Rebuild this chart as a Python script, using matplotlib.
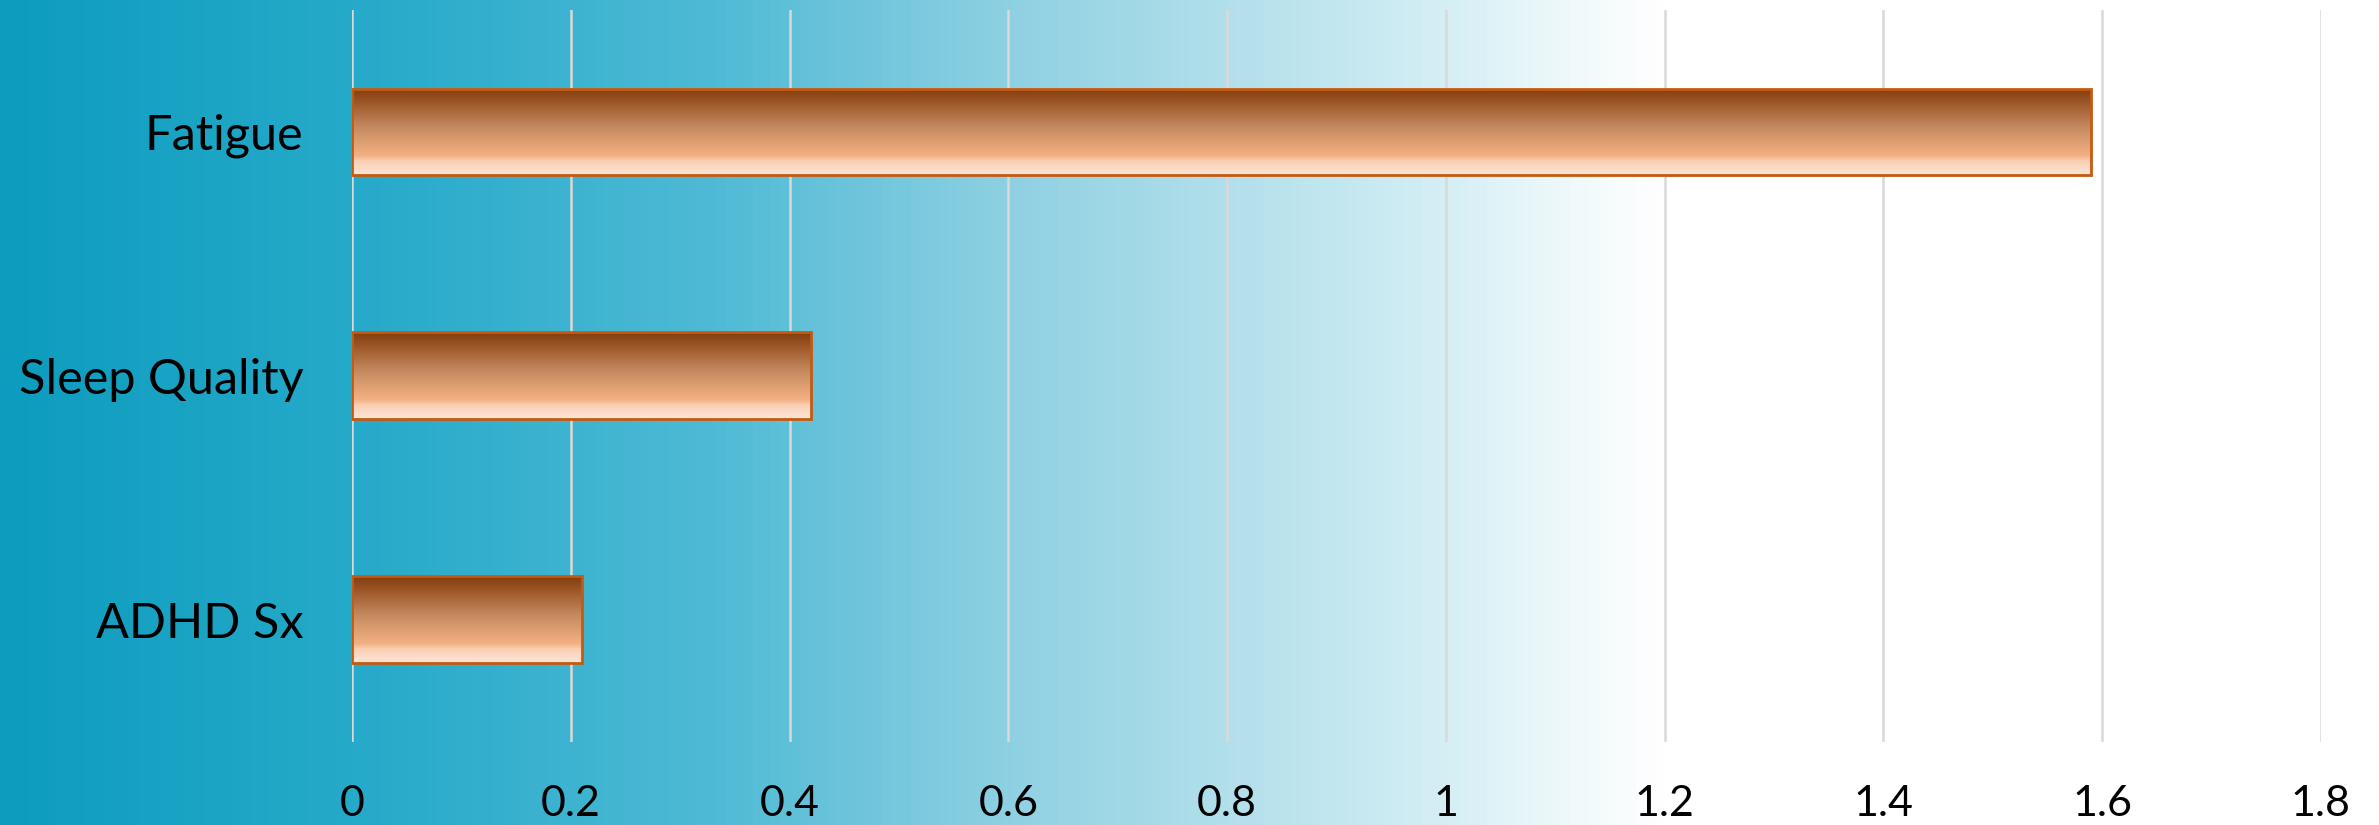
import numpy as np
import matplotlib.pyplot as plt
from matplotlib.colors import LinearSegmentedColormap

# Chart data
categories = ['Fatigue', 'Sleep Quality', 'ADHD Sx']
values     = [1.59, 0.42, 0.21]
x_ticks    = [0, 0.2, 0.4, 0.6, 0.8, 1, 1.2, 1.4, 1.6, 1.8]
x_labels   = ['0', '0.2', '0.4', '0.6', '0.8', '1', '1.2', '1.4', '1.6', '1.8']

plt.rcParams['font.family'] = ['Lato', 'DejaVu Sans']

# Colour maps: teal -> white backdrop, copper bar fill
back_cmap = LinearSegmentedColormap.from_list(
    'backdrop',
    [(0.00, '#0d9cbe'),
     (0.17, '#2aaccb'),
     (0.30, '#4fbad5'),
     (0.42, '#8dd0e2'),
     (0.52, '#b3e0eb'),
     (0.61, '#d6eff5'),
     (0.66, '#eff9fb'),
     (0.70, '#ffffff'),
     (1.00, '#ffffff')])
bar_cmap = LinearSegmentedColormap.from_list(
    'copper_fill',
    [(0.00, '#843c0c'),
     (0.15, '#9a5426'),
     (0.45, '#c68a60'),
     (0.78, '#f4b183'),
     (0.84, '#f9cfb3'),
     (1.00, '#fde6d8')])

fig = plt.figure(figsize=(23.79, 8.25), dpi=100)

#   Background gradient across the whole figure
bg = fig.add_axes([0, 0, 1, 1], zorder=-1)
bg.imshow(np.linspace(0, 1, 512).reshape(1, -1), cmap=back_cmap,
          aspect='auto', extent=[0, 1, 0, 1])
bg.set_axis_off()

ax = fig.add_axes([0.148, 0.101, 0.8276, 0.887])
ax.patch.set_alpha(0)

pos    = np.arange(len(categories))
height = 0.355
bars   = ax.barh(pos, values, height=height, facecolor='none',
                 edgecolor='#c55a11', linewidth=2, zorder=3)

#   Vertical gradient inside each bar
grad = np.linspace(0, 1, 256).reshape(-1, 1)
for bar in bars:
    x0, y0 = bar.get_x(), bar.get_y()
    w, h   = bar.get_width(), bar.get_height()
    im = ax.imshow(grad, cmap=bar_cmap, aspect='auto', zorder=2,
                   extent=[x0, x0 + w, y0 + h, y0], origin='upper')
    im.set_clip_path(bar)

ax.set_xlim(0, 1.8)
ax.set_ylim(len(categories) - 0.5, -0.5)

ax.set_xticks(x_ticks)
ax.set_xticklabels(x_labels, fontsize=31)
ax.set_yticks(pos)
ax.set_yticklabels(categories, fontsize=35)
ax.tick_params(axis='x', length=0, pad=31)
ax.tick_params(axis='y', length=0, pad=35)

ax.grid(axis='x', color='#d9d9d9', linewidth=1.8, zorder=1)
ax.set_axisbelow(True)
for side in ax.spines.values():
    side.set_visible(False)

plt.savefig('out.png', dpi=100)
